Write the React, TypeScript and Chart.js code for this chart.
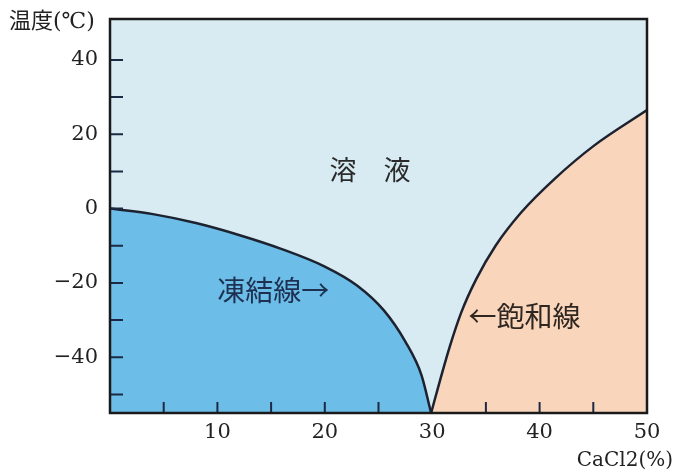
import { useEffect, useRef } from 'react';
import { Chart, registerables } from 'chart.js';
Chart.register(...registerables);

// Freezing line (凍結線): CaCl2 % vs temperature °C
const freezeX = [0, 4, 8, 12, 16, 20, 23, 25.5, 27.5, 29, 29.9];
const freezeY = [0, -1.5, -3.9, -7.1, -10.9, -15.6, -20.7, -27.4, -35.8, -44.8, -55];

// Saturation line (飽和線)
const satX = [29.9, 30.75, 31.65, 32.7, 34.1, 35.9, 38.3, 41.4, 45.1, 50];
const satY = [-55, -46, -37, -28, -19, -10, -1, 8, 17, 26.5];

const yTickLabels = [40, 20, 0, -20, -40];
const xTickLabels = [10, 20, 30, 40, 50];
const yMinorTicks = [-50, -40, -30, -20, -10, 0, 10, 20, 30, 40];
const xMinorTicks = [5, 10, 15, 20, 25, 35, 40, 45];

const regionLabels = ['溶　液', '凍結線→', '←飽和線'];
const regionLabelX = [24.2, 15.2, 38.6];
const regionLabelY = [10.4, -21.9, -28.9];
const regionLabelColors = ['#2a2a2a', '#1d3050', '#2e2620'];

const yTitle = '温度(℃)';
const xTitle = 'CaCl2(%)';

const BG = '#d8ebf3';
const BLUE = '#6cbde8';
const PEACH = '#f9d5bb';
const LINE = '#1c2230';
const SERIF = '"DejaVu Serif", "Noto Sans CJK JP", serif';
const CJK = '"Noto Sans CJK JP", sans-serif';

const decor = {
  id: 'decor',
  beforeDatasetsDraw(chart: any) {
    const { ctx, chartArea: a } = chart;
    ctx.save();
    ctx.fillStyle = BG;
    ctx.fillRect(a.left, a.top, a.right - a.left, a.bottom - a.top);
    ctx.restore();
  },
  afterDatasetsDraw(chart: any) {
    const { ctx, chartArea: a } = chart;
    const xs = chart.scales.x;
    const ys = chart.scales.y;
    ctx.save();
    ctx.strokeStyle = '#1d2a45';
    ctx.lineWidth = 2;
    ctx.beginPath();
    yMinorTicks.forEach((v) => {
      const py = ys.getPixelForValue(v);
      ctx.moveTo(a.left, py);
      ctx.lineTo(a.left + 13, py);
    });
    xMinorTicks.forEach((v) => {
      const px = xs.getPixelForValue(v);
      ctx.moveTo(px, a.bottom);
      ctx.lineTo(px, a.bottom - 11);
    });
    ctx.stroke();
    ctx.strokeStyle = '#1a1a1a';
    ctx.lineWidth = 2.5;
    ctx.strokeRect(a.left, a.top, a.right - a.left, a.bottom - a.top);
    ctx.textAlign = 'center';
    ctx.textBaseline = 'middle';
    regionLabels.forEach((t, i) => {
      ctx.font = (i === 0 ? '27px ' : '28px ') + CJK;
      ctx.fillStyle = regionLabelColors[i];
      ctx.fillText(t, xs.getPixelForValue(regionLabelX[i]), ys.getPixelForValue(regionLabelY[i]));
    });
    ctx.restore();
  },
  afterDraw(chart: any) {
    const { ctx, chartArea: a } = chart;
    ctx.save();
    ctx.fillStyle = '#222';
    ctx.textBaseline = 'middle';
    ctx.font = '22px ' + SERIF;
    ctx.textAlign = 'left';
    ctx.fillText(yTitle, 9, a.top + 3);
    ctx.font = '20px ' + SERIF;
    ctx.textAlign = 'right';
    ctx.fillText(xTitle, chart.width - 2, a.bottom + 48);
    ctx.restore();
  },
};

export default function App() {
  const ref = useRef<HTMLCanvasElement>(null);
  useEffect(() => {
    if (!ref.current) return;
    const chart = new Chart(ref.current, {
      type: 'line',
      data: {
        datasets: [
          {
            label: '凍結線',
            data: freezeX.map((x, i) => ({ x, y: freezeY[i] })),
            borderColor: LINE,
            borderWidth: 2.5,
            backgroundColor: BLUE,
            fill: 'start',
            pointRadius: 0,
            cubicInterpolationMode: 'monotone',
          },
          {
            label: '飽和線',
            data: satX.map((x, i) => ({ x, y: satY[i] })),
            borderColor: LINE,
            borderWidth: 2.5,
            backgroundColor: PEACH,
            fill: 'start',
            pointRadius: 0,
            cubicInterpolationMode: 'monotone',
          },
        ],
      },
      options: {
        animation: false,
        responsive: false,
        layout: { padding: { top: 19, right: 28, left: 0, bottom: 0 } },
        plugins: { legend: { display: false }, tooltip: { enabled: false } },
        scales: {
          x: {
            type: 'linear',
            min: 0,
            max: 50,
            grid: { display: false, drawTicks: false },
            border: { display: false },
            ticks: {
              stepSize: 5,
              autoSkip: false,
              maxRotation: 0,
              padding: 7,
              color: '#222',
              font: { family: SERIF, size: 21 },
              callback: (v: any) => (xTickLabels.includes(Number(v)) ? String(v) : ''),
            },
            afterFit: (s: any) => {
              s.height = 62;
              s.paddingLeft = 0;
              s.paddingRight = 0;
            },
          },
          y: {
            type: 'linear',
            min: -55,
            max: 51,
            grid: { display: false, drawTicks: false },
            border: { display: false },
            ticks: {
              stepSize: 10,
              autoSkip: false,
              padding: 12,
              color: '#222',
              font: { family: SERIF, size: 21 },
              callback: (v: any) => {
                const n = Number(v);
                if (!yTickLabels.includes(n)) return '';
                return n < 0 ? '−' + Math.abs(n) : String(n);
              },
            },
            afterFit: (s: any) => {
              s.width = 110;
              s.paddingTop = 0;
              s.paddingBottom = 0;
            },
          },
        },
      },
      plugins: [decor],
    } as any);
    return () => chart.destroy();
  }, []);
  return (
    <div style={{ position: 'absolute', left: 0, top: 0, width: 675, height: 475, background: '#fff' }}>
      <canvas ref={ref} width={675} height={475} />
    </div>
  );
}
